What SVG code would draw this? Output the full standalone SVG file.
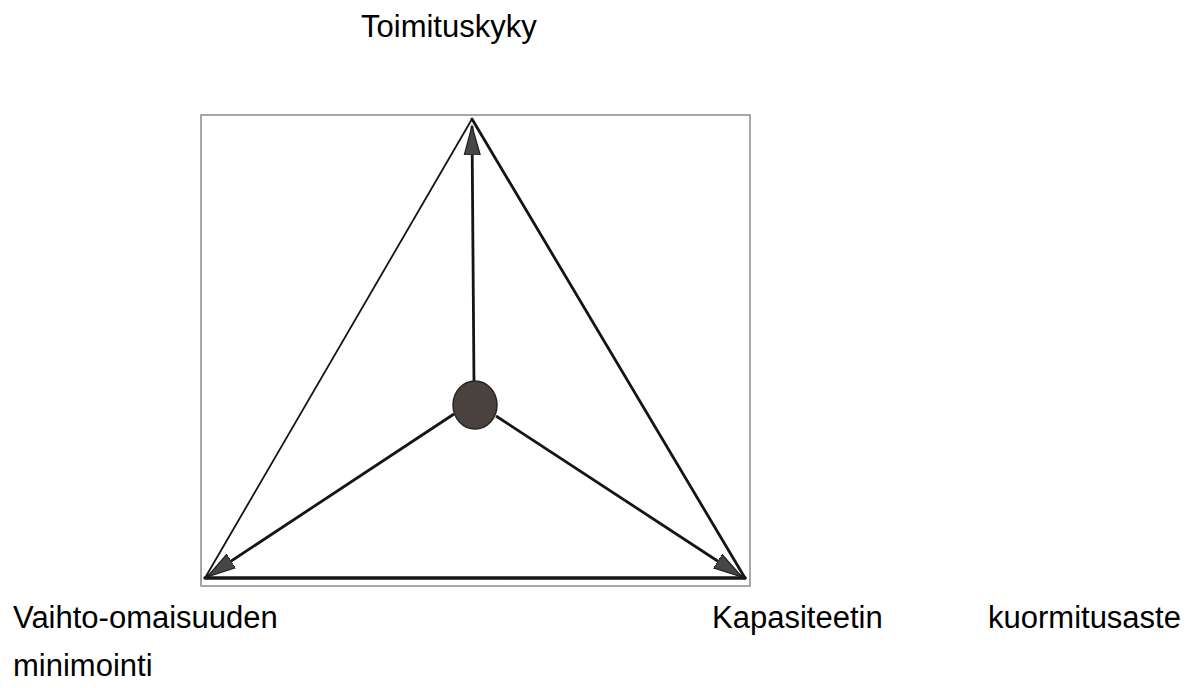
<svg xmlns="http://www.w3.org/2000/svg" width="1202" height="688" viewBox="0 0 1202 688">
<style>
.t{font-family:"Liberation Sans",Arial,sans-serif;font-size:31px;fill:#000}
.edge{fill:none;stroke:#151515;stroke-linecap:round}
.arr{fill:none;stroke:#151515;stroke-width:2.8}
</style>
<defs>
<marker id="ah" markerUnits="userSpaceOnUse" markerWidth="32" markerHeight="20" refX="29" refY="9" orient="auto">
<path d="M0,1 L29,9 L0,17 Z" fill="#464646" stroke="#1e1e1e" stroke-width="1.2"/>
</marker>
</defs>
<rect width="1202" height="688" fill="#fff"/>
<g id="frame">
<rect x="201" y="115" width="549" height="471" fill="#fff" stroke="#8a8a8a" stroke-width="1.5"/>
</g>
<g id="triangle">
<line class="edge" x1="472" y1="119" x2="205" y2="578" stroke-width="1.8"/>
<line class="edge" x1="472" y1="119" x2="745" y2="578" stroke-width="2.8"/>
<line class="edge" x1="205" y1="578" x2="745" y2="578" stroke-width="3.4"/>
</g>
<g id="connectors">
<line class="arr" x1="474" y1="384" x2="472" y2="126" marker-end="url(#ah)"/>
<line class="arr" x1="454" y1="414" x2="207" y2="577" marker-end="url(#ah)"/>
<line class="arr" x1="496" y1="416" x2="742" y2="577" marker-end="url(#ah)"/>
</g>
<g id="center">
<ellipse cx="475" cy="405" rx="22" ry="24" fill="#4a423e" stroke="#2a2523" stroke-width="1.5"/>
</g>
<g id="label-top">
<text class="t" x="361" y="37">Toimituskyky</text>
</g>
<g id="label-left">
<text class="t" x="13" y="628">Vaihto-omaisuuden</text>
<text class="t" x="13" y="676">minimointi</text>
</g>
<g id="label-right">
<text class="t" x="712" y="628">Kapasiteetin</text>
<text class="t" x="988" y="628">kuormitusaste</text>
</g>
</svg>
